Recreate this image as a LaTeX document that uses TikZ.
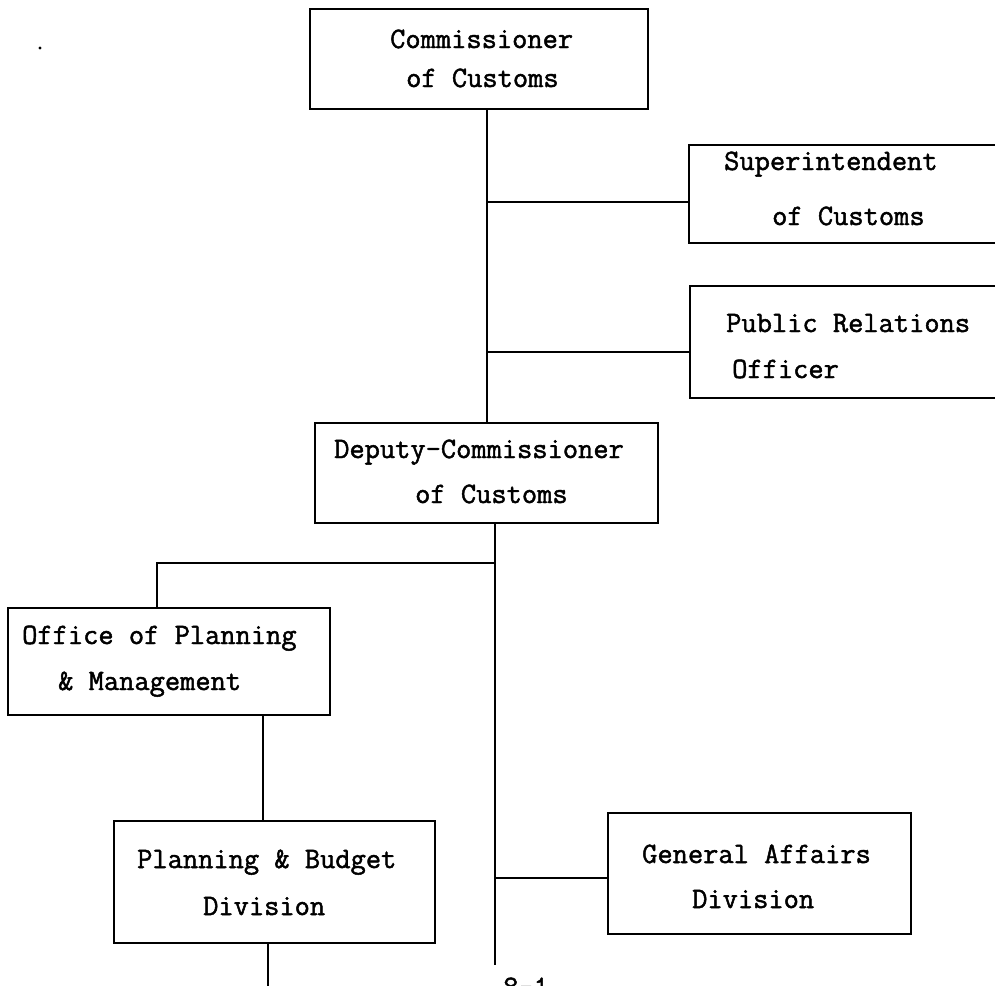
\documentclass[tikz,border=0pt]{standalone}
\usepackage{fontspec}
\setmonofont{Latin Modern Mono}[FakeBold=1.6]
\begin{document}
\begin{tikzpicture}[x=1pt,y=-1pt,
  box/.style={draw, line width=2.6pt, rectangle, inner sep=0pt},
  lbl/.style={anchor=base west, inner sep=0pt, font=\ttfamily\fontsize{29.6}{34}\selectfont},
  wire/.style={line width=2.6pt}]
\useasboundingbox (0,0) rectangle (995,985);
\clip (0,0) rectangle (995,985);

% boxes
\node[box, minimum width=338pt, minimum height=100pt] (com) at (479,59) {};
\node[box, minimum width=316pt, minimum height=98pt]  (sup) at (847,194) {};
\node[box, minimum width=315pt, minimum height=112pt] (pub) at (847.5,342) {};
\node[box, minimum width=343pt, minimum height=100pt] (dep) at (486.5,473) {};
\node[box, minimum width=322pt, minimum height=107pt] (off) at (169,661.5) {};
\node[box, minimum width=321pt, minimum height=122pt] (pb)  at (274.5,882) {};
\node[box, minimum width=303pt, minimum height=121pt] (gen) at (759.5,873.5) {};

% texts
\node[lbl] (com1) at (390,48) {Commissioner};
\node[lbl] (com2) at (406,87) {of Customs};
\node[lbl] (sup1) at (724,170) {Superintendent};
\node[lbl] (sup2) at (772,225) {of Customs};
\node[lbl] (pub1) at (726,332) {Public Relations};
\node[lbl] (pub2) at (732,378) {Officer};
\node[lbl] (dep1) at (334,458) {Deputy-Commissioner};
\node[lbl] (dep2) at (415,503) {of Customs};
\node[lbl] (off1) at (22,644) {Office of Planning};
\node[lbl] (off2) at (58,690) {\& Management};
\node[lbl] (pb1)  at (137,868) {Planning \& Budget};
\node[lbl] (pb2)  at (203,915) {Division};
\node[lbl] (gen1) at (642,863) {General Affairs};
\node[lbl] (gen2) at (692,908) {Division};
\node[lbl] (pg)   at (503,996) {8-1};

% helper coordinates
\coordinate (axA) at (487,0);
\coordinate (axB) at (495,0);
\coordinate (jOff) at (157,563);
\coordinate (jOffB) at (495,563);
\coordinate (spEnd) at (495,965);
\coordinate (axP) at (263,0);
\coordinate (axQ) at (268,0);
\coordinate (pbEnd) at (268,990);

% connectors
\draw[wire] (com.south -| axA) -- (dep.north -| axA);
\draw[wire] ([yshift=-8pt]sup.west) -- ([yshift=-8pt]sup.west -| axA);
\draw[wire] ([yshift=-10pt]pub.west) -- ([yshift=-10pt]pub.west -| axA);
\draw[wire] (dep.south -| axB) -- (spEnd);
\draw[wire] (jOffB) -- (jOff) -- (off.north -| jOff);
\draw[wire] ([yshift=-4.5pt]gen.west) -- ([yshift=-4.5pt]gen.west -| axB);
\draw[wire] (off.south -| axP) -- (pb.north -| axP);
\draw[wire] (pb.south -| axQ) -- (pbEnd);

% stray mark
\fill (40,48) circle (1.6pt);
\end{tikzpicture}
\end{document}
